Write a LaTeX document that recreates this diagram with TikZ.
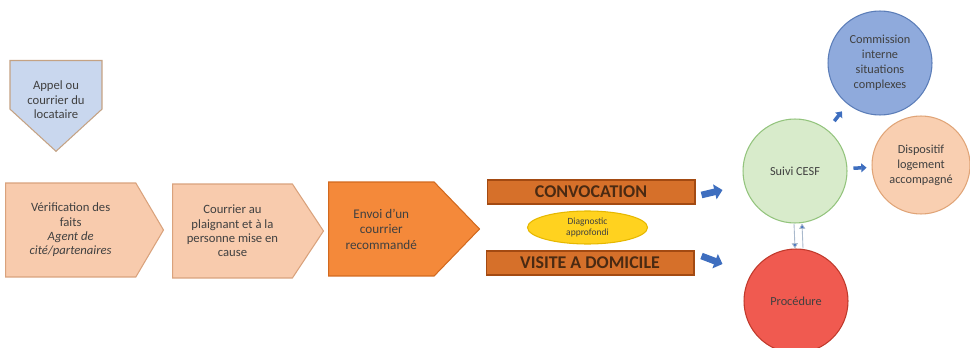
\documentclass[tikz,border=0pt]{standalone}
\usepackage{fontspec}
\setmainfont{Carlito}
\usetikzlibrary{shapes,shapes.geometric,shapes.symbols,positioning,arrows.meta,calc}
\definecolor{peach}{HTML}{F8CBAD}
\definecolor{peachline}{HTML}{D9A27C}
\definecolor{skyfill}{HTML}{C9D7EE}
\definecolor{skyline}{HTML}{C4A283}
\definecolor{envoifill}{HTML}{F4893A}
\definecolor{envoiline}{HTML}{D2691E}
\definecolor{barfill}{HTML}{D6702A}
\definecolor{barline}{HTML}{A34A12}
\definecolor{bartext}{HTML}{4A2A12}
\definecolor{diagfill}{HTML}{FFD21F}
\definecolor{diagline}{HTML}{E6B800}
\definecolor{suivifill}{HTML}{D8EBCB}
\definecolor{suiviline}{HTML}{93C47D}
\definecolor{commfill}{HTML}{8FAADC}
\definecolor{commline}{HTML}{5B7DB8}
\definecolor{dispfill}{HTML}{F9CFB1}
\definecolor{displine}{HTML}{E0A477}
\definecolor{procfill}{HTML}{F05A50}
\definecolor{procline}{HTML}{C0392B}
\definecolor{arrowblue}{HTML}{3E6EBF}
\definecolor{thinline}{HTML}{A9B9CC}
\definecolor{textgray}{HTML}{404040}
\tikzset{
  stepbox/.style={signal, signal to=east, draw=peachline, fill=peach, line width=.6pt,
    align=center, font=\fontsize{7.2}{8.2}\selectfont, text=textgray, inner sep=0pt,
    minimum height=1.88cm, anchor=west},
  barbox/.style={draw=barline, fill=barfill, line width=.6pt, minimum width=4.16cm,
    minimum height=.48cm, inner sep=0pt, font=\bfseries\fontsize{10.2}{11}\selectfont, text=bartext},
  bubble/.style={circle, line width=.6pt, align=center, inner sep=0pt,
    font=\fontsize{7}{8.5}\selectfont, text=black!75},
  blockarrow/.style={draw=arrowblue, line width=3.8pt, -{Triangle[length=4.5pt,width=8.5pt]}},
  smallarrow/.style={draw=arrowblue, line width=2pt, -{Triangle[length=3pt,width=5pt]}},
  thinarrow/.style={draw=thinline, line width=.5pt, -{Triangle[length=3pt,width=3.5pt,fill=arrowblue]}}
}
\begin{document}
\begin{tikzpicture}[x=0.02cm,y=-0.02cm]
    \useasboundingbox (0,0) rectangle (970,348);
    %-----------------------------------------------
    \node[signal, signal to=south, signal pointer angle=95, draw=skyline, fill=skyfill,
      line width=.6pt, minimum width=1.84cm, minimum height=1.08cm, anchor=north] (appel) at (56,60) {};
    \node[align=center, inner sep=0pt, font=\fontsize{7.2}{8.4}\selectfont, text=textgray]
      (appeltext) at ([yshift=-.3cm]appel.center) {Appel ou\\courrier du\\locataire};
    %-----------------------------------------------
    \node[stepbox, signal pointer angle=119, minimum width=3.16cm] (verif) at (5,230)
      {V\'erification des\\faits\\\textit{Agent de}\\\textit{cit\'e/partenaires}};
    \node[stepbox, signal pointer angle=113, minimum width=3.02cm] (courrier) at (172,231)
      {Courrier au\\plaignant et \`a la\\personne mise en\\cause};
    \node[stepbox, signal pointer angle=92, minimum width=3.02cm, draw=envoiline,
      fill=envoifill, font=\fontsize{7.5}{8.8}\selectfont] (envoi) at (328,229)
      {Envoi d'un\\courrier\\recommand\'e};
    %-----------------------------------------------
    \node[barbox] (conv) at (591,192) {CONVOCATION};
    \node[barbox] (visite) at (590,263) {VISITE A DOMICILE};
    \node[ellipse, draw=diagline, fill=diagfill, line width=.6pt, minimum width=2.4cm,
      minimum height=.66cm, inner sep=0pt, align=center, font=\fontsize{5.4}{6.4}\selectfont,
      text=textgray] (diag) at ($(conv)!.5!(visite)+(-3,0)$) {Diagnostic\\approfondi};
    %-----------------------------------------------
    \node[bubble, draw=suiviline, fill=suivifill, minimum size=2.08cm] (suivi) at (795,171) {Suivi CESF};
    \node[bubble, draw=commline, fill=commfill, minimum size=2.08cm] (comm) at (880,63)
      {Commission\\interne\\situations\\complexes};
    \node[bubble, draw=displine, fill=dispfill, minimum size=1.96cm] (disp) at (921,165)
      {Dispositif\\logement\\accompagn\'e};
    \node[bubble, draw=procline, fill=procfill, minimum size=2.08cm] (proc) at (796,301) {Proc\'edure};
    %-----------------------------------------------
    \draw[blockarrow] ([xshift=.12cm,yshift=-.06cm]conv.east) -- ++(21,-5);
    \draw[blockarrow] ([xshift=.14cm,yshift=.14cm]visite.east) -- ++(21,8);
    \draw[smallarrow, shorten <=.22cm, shorten >=.18cm] (suivi) -- (comm);
    \draw[smallarrow, shorten <=.12cm, shorten >=.1cm] (suivi) -- (disp);
    \draw[thinarrow] ([xshift=-.02cm]suivi.south) -- ([xshift=-.02cm]proc.north);
    \draw[thinarrow] ([xshift=.14cm]proc.north) -- ([xshift=.14cm]suivi.south);
\end{tikzpicture}
\end{document}
